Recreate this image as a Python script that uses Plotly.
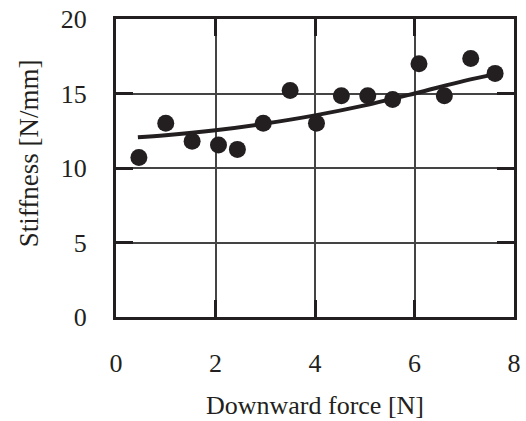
import plotly.graph_objects as go

force = [0.46, 1.0, 1.53, 2.06, 2.44, 2.96, 3.5, 4.03, 4.53, 5.06, 5.56, 6.09, 6.6, 7.13, 7.62]
stiffness = [10.7, 13.0, 11.8, 11.55, 11.25, 13.0, 15.2, 13.0, 14.85, 14.85, 14.6, 17.0, 14.85, 17.35, 16.35]

fit_x = [0.44, 1.0, 2.0, 3.0, 4.0, 5.0, 6.0, 7.0, 7.62]
fit_y = [12.07, 12.2, 12.53, 12.98, 13.53, 14.2, 15.0, 15.85, 16.3]

x_ticks = [0, 2, 4, 6, 8]
y_ticks = [0, 5, 10, 15, 20]

ink = "#231f20"
font = dict(family="Liberation Serif", size=26, color=ink)

fig = go.Figure()
fig.add_trace(go.Scatter(x=fit_x, y=fit_y, mode="lines", line=dict(color=ink, width=4, shape="spline"),
                         showlegend=False, hoverinfo="skip"))
fig.add_trace(go.Scatter(x=force, y=stiffness, mode="markers",
                         marker=dict(color=ink, size=17, line=dict(width=0)), showlegend=False))

axis_common = dict(showgrid=True, gridcolor="#444444", gridwidth=1.5, zeroline=False,
                   showline=True, linecolor=ink, linewidth=3, mirror="allticks",
                   ticks="inside", ticklen=17, tickwidth=3, tickcolor=ink,
                   tickfont=font, ticklabeloverflow="allow")

fig.update_layout(
    width=526, height=421,
    margin=dict(l=116, r=5, t=16, b=104),
    paper_bgcolor="white", plot_bgcolor="white",
    font=font,
    xaxis=dict(range=[0, 8], tickvals=x_ticks, ticklabelstandoff=21,
               title=dict(text="Downward force [N]", font=font, standoff=19), **axis_common),
    yaxis=dict(range=[0, 20], tickvals=y_ticks, ticklabelstandoff=21, **axis_common),
    annotations=[dict(text="Stiffness [N/mm]", textangle=-90, xref="paper", yref="paper",
                      x=-0.218, y=0.55, xanchor="center", yanchor="middle",
                      showarrow=False, font=dict(family="Liberation Serif", size=27, color=ink))],
)

fig.write_html("out.html", config={"displayModeBar": False},
               post_script="document.body.style.margin='0';document.body.style.overflow='hidden';")
